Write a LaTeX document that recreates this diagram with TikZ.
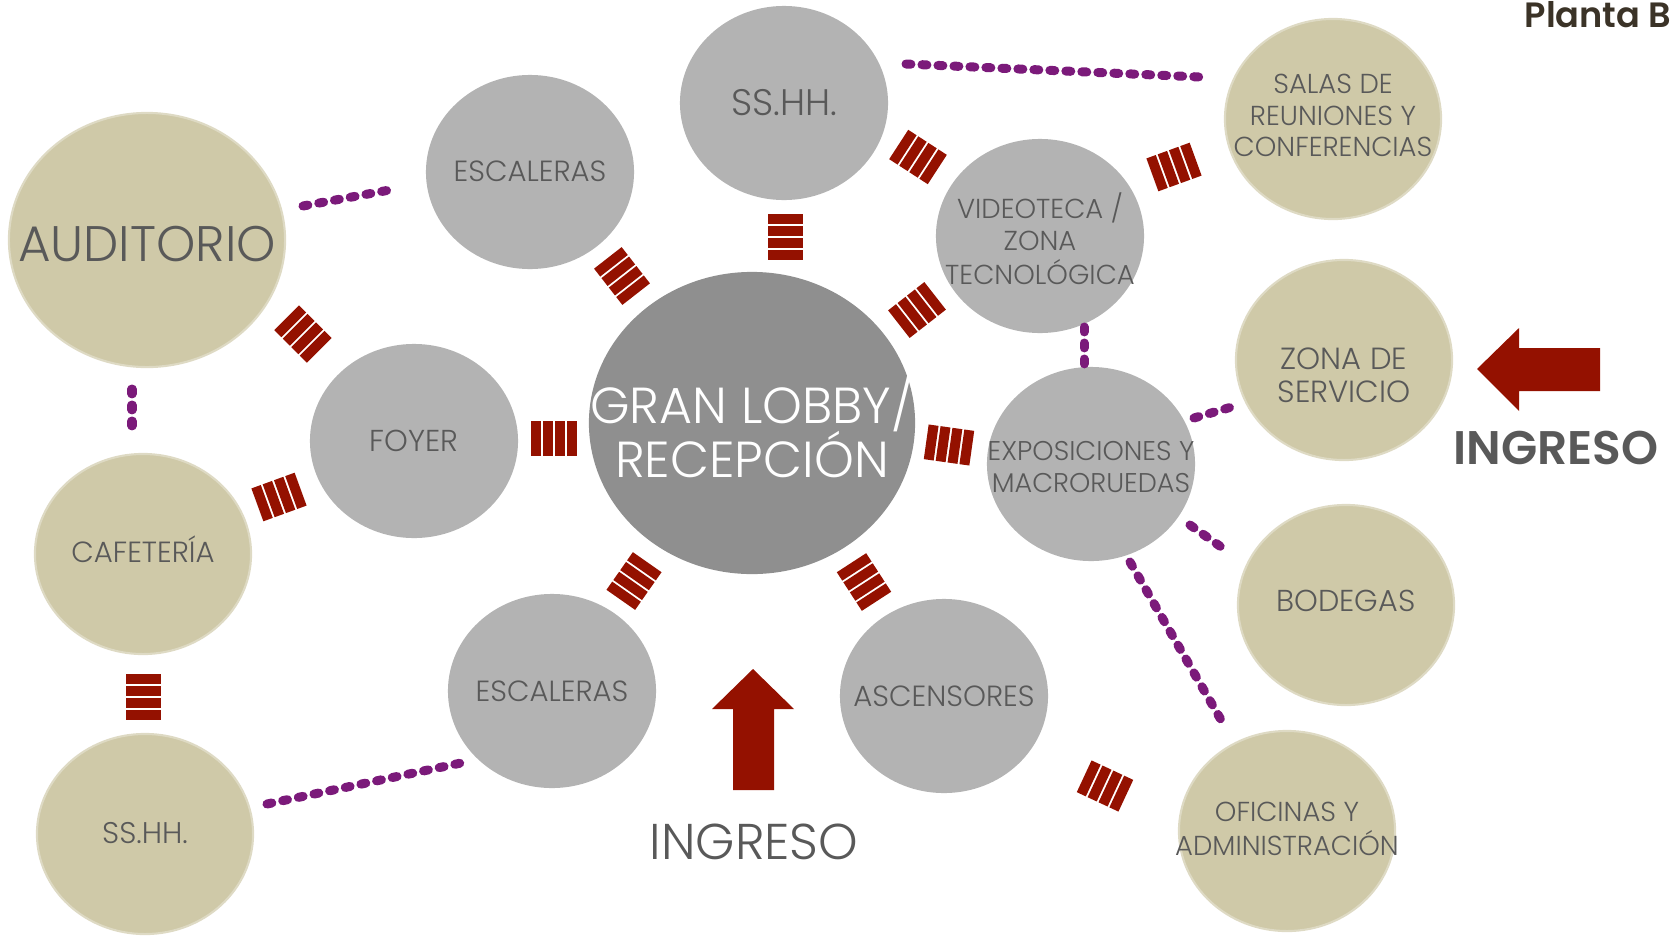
\documentclass[tikz,border=0pt]{standalone}
\usepackage{fontspec}
\setmainfont{Poppins}[UprightFont={* Light},BoldFont={* SemiBold}]
\usetikzlibrary{shapes.geometric}
\definecolor{lobbyc}{HTML}{8F8F8F}
\definecolor{greyc}{HTML}{B3B3B3}
\definecolor{tanc}{HTML}{CFC9A8}
\definecolor{tanrim}{HTML}{DEDAC4}
\definecolor{redc}{HTML}{941100}
\definecolor{purc}{HTML}{7B1A7A}
\definecolor{txtc}{HTML}{595959}
\definecolor{plantc}{HTML}{3B3327}
\newcommand{\lbl}[2][0pt]{\raisebox{-#1}[\height][\depth]{\makebox[0pt]{\begin{tabular}{@{}c@{}}#2\end{tabular}}}}
\tikzset{
  bubble/.style={ellipse,inner sep=0pt,text=txtc,font=\fontsize{8.3}{9.4}\selectfont},
  greyb/.style={bubble,fill=greyc,minimum width=2.08cm,minimum height=1.94cm},
  tanb/.style={bubble,fill=tanc,draw=tanrim,line width=0.6pt,minimum width=2.16cm,minimum height=2.0cm},
  dots/.style={draw=purc,line width=2.56pt,line cap=round,dash pattern=on 1.4pt off 3.15pt},
  bars/.pic={\foreach \i in {0,1,2,3}{\fill[redc] ({-23+\i*12},-17.5) rectangle ++(10,35);}}
}
\begin{document}
\begin{tikzpicture}[x=0.01cm,y=-0.01cm]
\useasboundingbox (0,0) rectangle (1672,936);
\clip (0,0) rectangle (1672,936);
% bubbles
\node[bubble,fill=lobbyc,text=white,minimum width=3.26cm,minimum height=3.02cm,font=\fontsize{14.4}{15.5}\selectfont] (lobby) at (752,423) {\lbl[3.3pt]{GRAN LOBBY/\\[-2.5pt]RECEPCIÓN}};
\node[greyb,font=\fontsize{10.5}{12}\selectfont] (sshhA) at (784,103) {\lbl[1.2pt]{SS.HH.}};
\node[greyb] (escA) at (530,172) {\lbl[0.9pt]{ESCALERAS}};
\node[greyb,font=\fontsize{7.8}{9}\selectfont] (video) at (1040,236) {\lbl[2.1pt]{VIDEOTECA /\\ZONA\\TECNOLÓGICA}};
\node[tanb,font=\fontsize{7.8}{8.9}\selectfont] (salas) at (1333,119) {\lbl{SALAS DE\\REUNIONES Y\\CONFERENCIAS}};
\node[tanb,minimum width=2.76cm,minimum height=2.54cm,font=\fontsize{14.2}{17}\selectfont] (audi) at (147,240) {\lbl[2.7pt]{AUDITORIO}};
\node[greyb,font=\fontsize{8.6}{9.6}\selectfont] (foyer) at (414,441) {\lbl[1.2pt]{FOYER}};
\node[greyb,font=\fontsize{7.7}{9}\selectfont] (expo) at (1091,464) {\lbl[1.8pt]{EXPOSICIONES Y\\MACRORUEDAS}};
\node[tanb,font=\fontsize{8.7}{9.5}\selectfont] (zona) at (1344,360) {\lbl[5.5pt]{ZONA DE\\SERVICIO}};
\node[tanb,font=\fontsize{8.3}{9.6}\selectfont] (cafe) at (143,554) {\lbl{CAFETERÍA}};
\node[tanb,font=\fontsize{8.6}{9.6}\selectfont] (bodegas) at (1346,605) {\lbl{BODEGAS}};
\node[greyb] (escB) at (552,691) {\lbl[1.2pt]{ESCALERAS}};
\node[greyb] (asc) at (944,696) {\lbl[1.2pt]{ASCENSORES}};
\node[tanb,font=\fontsize{8.5}{10}\selectfont] (sshhB) at (145,834) {\lbl[0.6pt]{SS.HH.}};
\node[tanb,font=\fontsize{7.8}{9}\selectfont] (ofi) at (1287,831) {\lbl[0.3pt]{OFICINAS Y\\ADMINISTRACIÓN}};
% red bar connectors
\pic[rotate=90] at (785,237) {bars};
\pic[rotate=-52] at (622,276) {bars};
\pic[rotate=38] at (917,310) {bars};
\pic[rotate=-33] at (918,157) {bars};
\pic[rotate=20] at (1174,167) {bars};
\pic[rotate=-45] at (303,334) {bars};
\pic[rotate=0] at (554,438) {bars};
\pic[rotate=20] at (279,497) {bars};
\pic[rotate=90] at (143,697) {bars};
\pic[rotate=-8] at (949,445) {bars};
\pic[rotate=55] at (634,581) {bars};
\pic[rotate=-57] at (864,582) {bars};
\pic[rotate=-25] at (1105,786) {bars};
% purple dotted connectors
\draw[dots] (303,206) -- (395,189);
\draw[dots] (906,64) -- (1200,77);
\draw[dots] (132,389) -- (132,429);
\draw[dots] (1084,327) -- (1084,368);
\draw[dots] (1194,418) -- (1235,406);
\draw[dots] (1190,525) -- (1224,549);
\draw[dots] (1130,562) -- (1224,725);
\draw[dots] (267,804) -- (461,763);
% entrance arrows
\fill[redc] (753,669) -- (794,709) -- (774,709) -- (774,790) -- (733,790) -- (733,709) -- (712,709) -- cycle;
\fill[redc] (1477,369) -- (1519,328) -- (1519,348) -- (1600,348) -- (1600,391) -- (1519,391) -- (1519,411) -- cycle;
\node[text=txtc,font=\fontsize{14.3}{17}\selectfont] (ingB) at (754,842) {INGRESO};
\node[text=txtc,font=\fontsize{13.4}{16}\selectfont\bfseries] (ingR) at (1556,448) {INGRESO};
\node[anchor=base west,inner sep=0pt,text=plantc,font=\fontsize{10}{12}\selectfont\bfseries] (planta) at (1524,27) {Planta Baja};
\end{tikzpicture}
\end{document}
